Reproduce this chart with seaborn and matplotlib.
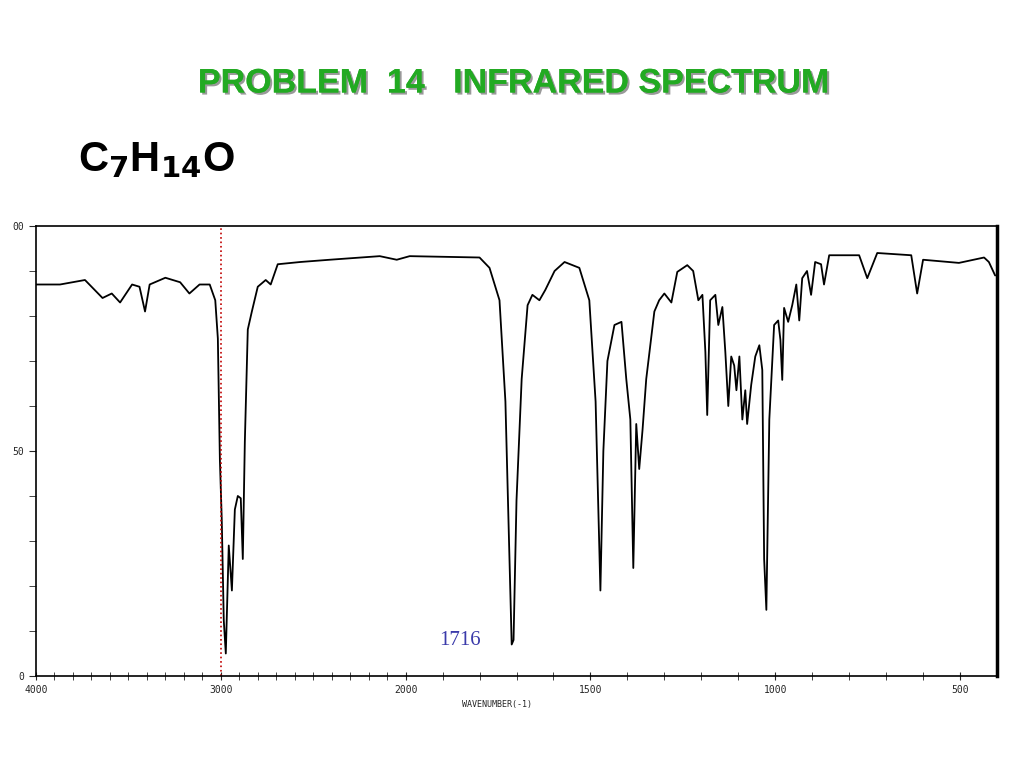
import numpy as np
import pandas as pd
import seaborn as sns
import matplotlib
matplotlib.use("Agg")
import matplotlib.pyplot as plt
import matplotlib.patheffects as pe

wavenumber = [4000, 3870, 3735, 3640, 3590, 3545, 3480, 3440, 3410, 3385, 3300, 3220, 3170, 3115, 3060,
              3030, 3016, 3005, 2995, 2984, 2973, 2957, 2940, 2924, 2908, 2892, 2881, 2870, 2854, 2832,
              2800, 2757, 2730, 2692, 2570, 2411, 2140, 2048, 1989, 1800, 1773, 1746, 1730, 1719, 1713,
              1708, 1700, 1686, 1670, 1657, 1638, 1622, 1597, 1570, 1530, 1503, 1486, 1473, 1465, 1454,
              1435, 1416, 1403, 1392, 1384, 1376, 1368, 1359, 1349, 1327, 1314, 1300, 1281, 1265, 1238,
              1222, 1208, 1197, 1189, 1184, 1176, 1162, 1154, 1143, 1135, 1127, 1119, 1111, 1105, 1097,
              1089, 1081, 1076, 1065, 1054, 1043, 1035, 1030, 1024, 1016, 1003, 992, 986, 981, 976,
              965, 954, 943, 935, 927, 914, 903, 892, 876, 868, 854, 773, 751, 724, 632,
              616, 600, 503, 435, 422, 405]
transmittance = [87, 87, 88, 84, 85, 83, 87, 86.5, 81, 87, 88.5, 87.5, 85, 87, 87,
                 83.5, 75, 48, 35, 12.4, 5, 29, 19, 37, 40, 39.5, 26, 52, 77, 81,
                 86.5, 88, 87, 91.5, 92, 92.5, 93.3, 92.5, 93.3, 93, 90.7, 83.5, 61, 26, 7,
                 8, 39, 66, 82.4, 84.7, 83.5, 85.8, 90, 92, 90.7, 83.5, 61, 19, 50, 70,
                 78, 78.7, 66, 57, 24, 56, 46, 54.7, 66, 81, 83.5, 85, 83, 89.8, 91.3,
                 90, 83.5, 84.7, 72, 58, 83.5, 84.7, 78, 82, 72, 60, 71, 69, 63.5, 71,
                 57, 63.5, 56, 64.7, 71, 73.5, 68, 26, 14.7, 57, 78, 79, 74.7, 65.8, 81.8,
                 78.7, 82.4, 87, 79, 88.4, 90, 84.7, 92, 91.5, 87, 93.5, 93.5, 88.4, 94, 93.5,
                 85, 92.5, 91.8, 93, 92, 89]

df = pd.DataFrame({"w": wavenumber, "t": transmittance})

def fwd(w):
    w = np.asarray(w, dtype=float)
    return np.where(w <= 2000, w / 500.0, 4 + (w - 2000) / 1000.0)

def inv(p):
    p = np.asarray(p, dtype=float)
    return np.where(p <= 4, p * 500.0, 2000 + (p - 4) * 1000.0)

sns.set_style("white")
fig = plt.figure(figsize=(10.24, 7.68), dpi=100)
ax = fig.add_axes([36/1024, 92/768, 961/1024, 450/768])
ax.set_xscale("function", functions=(fwd, inv))
sns.lineplot(data=df, x="w", y="t", ax=ax, color="black", linewidth=1.3, sort=False, estimator=None)
ax.set_xlim(4000, 400)
ax.set_ylim(0, 100)
ax.axvline(3000, color="#c00000", linestyle=":", linewidth=1.2)

ax.set_xticks([4000, 3000, 2000, 1500, 1000, 500])
ax.set_xticklabels(["4000", "3000", "2000", "1500", "1000", "500"])
minor = list(range(3900, 2000, -100)) + list(range(1900, 400, -100))
ax.set_xticks(minor, minor=True)
ax.set_yticks([0, 50, 100])
ax.set_yticklabels(["0", "50", "00"])
ax.set_yticks(range(10, 100, 10), minor=True)
ax.tick_params(axis="x", which="both", direction="inout", length=6, labelsize=7, bottom=True)
ax.tick_params(axis="y", which="both", direction="out", length=5, labelsize=7, left=True)
for lab in ax.get_xticklabels() + ax.get_yticklabels():
    lab.set_family("DejaVu Sans Mono")
for s in ax.spines.values():
    s.set_color("black")
    s.set_linewidth(1.2)
ax.spines["right"].set_linewidth(2.5)
ax.set_xlabel("")
ax.set_ylabel("")

ax.text(1852, 7.8, "1716", color="#3a3aaa", fontsize=15, family="Liberation Serif",
        ha="center", va="center")
fig.text(497/1024, 1 - 705/768, "WAVENUMBER(-1)", fontsize=6, family="DejaVu Sans Mono",
         ha="center", va="center")

fig.text(513/1024, 1 - 84/768, "PROBLEM  14   INFRARED SPECTRUM", color="#22aa22",
         fontsize=24.5, fontweight="bold", family="Liberation Sans", ha="center", va="center",
         path_effects=[pe.withSimplePatchShadow(offset=(1.5, -1.5), shadow_rgbFace="#555555", alpha=0.6), pe.Normal()])
fig.text(78/1024, 1 - 160/768, r"C$_{\mathbf{7}}$H$_{\mathbf{14}}$O", color="black",
         fontsize=30, fontweight="bold", family="Liberation Sans", ha="left", va="center")

fig.savefig("out.png", dpi=100)
